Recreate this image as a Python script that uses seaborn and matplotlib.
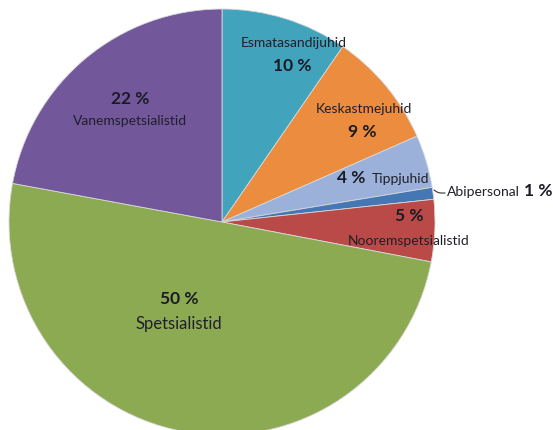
import matplotlib
matplotlib.use("Agg")
import matplotlib.pyplot as plt
import seaborn as sns

categories = ["Esmatasandijuhid", "Keskastmejuhid", "Tippjuhid", "Abipersonal",
              "Nooremspetsialistid", "Spetsialistid", "Vanemspetsialistid"]
values = [9.6, 8.8, 4.0, 0.9, 4.7, 49.9, 22.1]
pct_labels = ["10 %", "9 %", "4 %", "1 %", "5 %", "50 %", "22 %"]
colors_hex = ["#42A3BC", "#EC8C3F", "#9CB1DA", "#4577B5", "#B94A47", "#8CAA52", "#72589A"]

sns.set_theme(style="white")
plt.rcParams['font.family'] = ['Lato', 'DejaVu Sans']
palette = sns.color_palette(colors_hex)

W, H = 553, 430
fig = plt.figure(figsize=(W / 100, H / 100), dpi=100)
ax = fig.add_axes([0, 0, 1, 1])
ax.set_xlim(0, W)
ax.set_ylim(0, H)
ax.set_aspect("equal")
ax.axis("off")

cx, cy, r = 222, H - 222, 213
ax.pie(values, colors=palette, startangle=90, counterclock=False,
       center=(cx, cy), radius=r, frame=True,
       wedgeprops=dict(edgecolor="#d8d8d8", linewidth=0.6))
ax.set_xlim(0, W)
ax.set_ylim(0, H)
ax.axis("off")

def T(x, y, s, **kw):
    ax.text(x, H - y, s, ha="center", va="center", **kw)

name_kw = dict(fontsize=10, color="#1f1f2a")
pct_kw = dict(fontsize=12.5, fontweight="bold", color="#1a1a24")

T(294, 43, categories[0], **name_kw)
T(292, 66, pct_labels[0], **pct_kw)
T(364, 109, categories[1], **name_kw)
T(362, 132, pct_labels[1], **pct_kw)
T(351, 178, pct_labels[2], **pct_kw)
T(400, 179, categories[2], **name_kw)
T(409, 216, pct_labels[4], **pct_kw)
T(409, 241, categories[4], **name_kw)
T(130, 99, pct_labels[6], **pct_kw)
T(130, 121, categories[6], **name_kw)
T(179, 299, pct_labels[5], **pct_kw)
T(179, 324, categories[5], fontsize=12, color="#1f1f2a")

ax.text(447, H - 192, categories[3], ha="left", va="center", **name_kw)
ax.text(552, H - 191, pct_labels[3], ha="right", va="center", **pct_kw)
ax.plot([434, 437, 440, 445], [H - 190, H - 192, H - 193, H - 193], color="#333333", lw=0.8)

fig.savefig("out.png", dpi=100)
